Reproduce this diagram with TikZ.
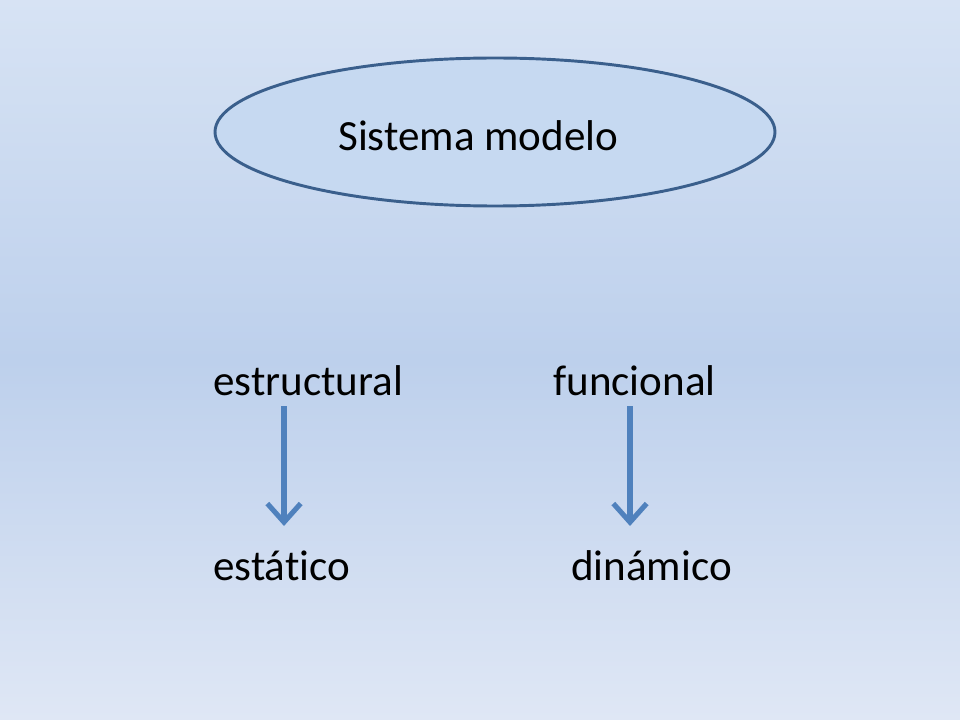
\documentclass[tikz,border=0pt]{standalone}
\usepackage{fontspec}
\setmainfont[Ligatures={NoCommon,NoRare}]{Carlito}
\usetikzlibrary{arrows.meta,shapes.geometric}
\definecolor{bgtop}{HTML}{D7E3F4}
\definecolor{bgmid}{HTML}{BDD0EC}
\definecolor{bgbot}{HTML}{DFE7F5}
\definecolor{ellfill}{HTML}{C6D9F1}
\definecolor{elldraw}{HTML}{3A5F8C}
\definecolor{arrowblue}{HTML}{4F81BD}
\tikzset{
  lbl/.style={font=\fontsize{32.3}{38}\selectfont, inner sep=0pt, anchor=base west},
  downarrow/.style={draw=arrowblue, line width=3.8pt, -{Straight Barb[length=14pt,width=25pt,line width=3.8pt]}},
}
\begin{document}
\begin{tikzpicture}[x=0.75pt,y=-0.75pt]
\shade[top color=bgtop, bottom color=bgbot, middle color=bgmid] (0,0) rectangle (960,720);
\useasboundingbox (0,0) rectangle (960,720);
\node[ellipse, draw=elldraw, fill=ellfill, line width=2.2pt, minimum width=420pt, minimum height=111pt, inner sep=0pt] (sys) at (495,132) {};
\node[lbl] (sm) at (338,151) {Sistema modelo};
\node[lbl] (est) at (213,395) {estructural};
\node[lbl] (fun) at (553,395) {funcional};
\node[lbl] (sta) at (213,580) {estático};
\node[lbl] (din) at (571,580) {dinámico};
\coordinate (a1s) at (284,406);
\coordinate (a1e) at (284,526);
\coordinate (a2s) at (630,406);
\coordinate (a2e) at (630,526);
\draw[downarrow] (a1s) -- (a1e);
\draw[downarrow] (a2s) -- (a2e);
\end{tikzpicture}
\end{document}
